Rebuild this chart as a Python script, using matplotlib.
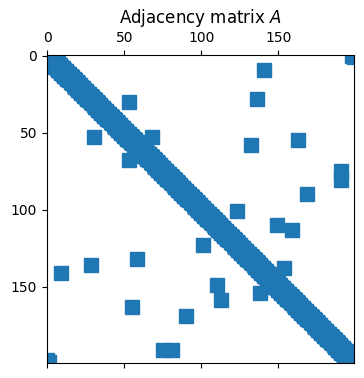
import numpy as np
import matplotlib
matplotlib.use("Agg")
import matplotlib.pyplot as plt

n_nodes = 200
ring_offsets = [1, 2]
shortcut_rows = [9, 28, 30, 53, 58, 55, 75, 81, 90, 101, 110, 113, 138]
shortcut_cols = [141, 136, 53, 68, 132, 163, 191, 191, 169, 123, 149, 159, 154]

A = np.zeros((n_nodes, n_nodes))
idx = np.arange(n_nodes)
for k in ring_offsets:
    A[idx, (idx + k) % n_nodes] = 1
    A[(idx + k) % n_nodes, idx] = 1
for r, c in zip(shortcut_rows, shortcut_cols):
    A[r, c] = 1
    A[c, r] = 1

fig = plt.figure(figsize=(3.64, 3.78), dpi=100)
ax = fig.add_axes([46.7 / 364, (378 - 362.7) / 378, 307.7 / 364, 307.7 / 378])
ax.spy(A, markersize=10)
ax.set_title("Adjacency matrix $A$")
fig.savefig("out.png", dpi=100)
